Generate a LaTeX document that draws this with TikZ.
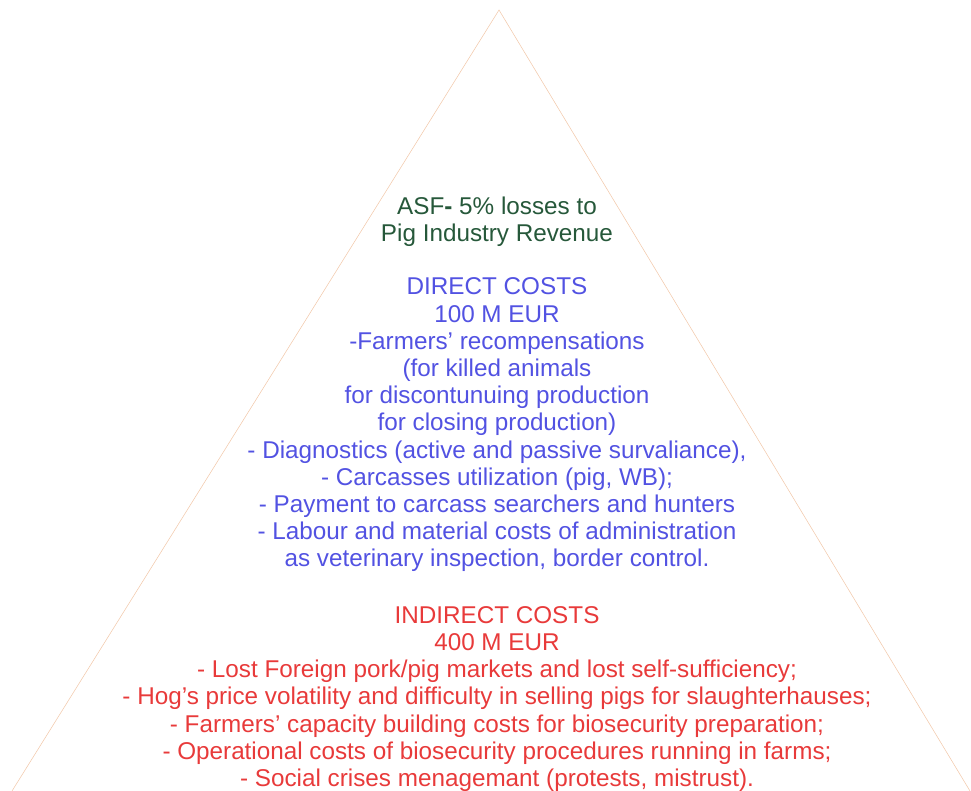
\documentclass[tikz,border=0pt]{standalone}
\usepackage{fontspec}
\setmainfont{Liberation Sans}
\usetikzlibrary{positioning}

\definecolor{asfgreen}{RGB}{38,88,58}
\definecolor{directblue}{RGB}{82,82,226}
\definecolor{indirectred}{RGB}{232,58,58}
\definecolor{edgeorange}{RGB}{242,200,170}

\tikzset{
	costblock/.style={align=center, inner sep=0pt, font=\fontsize{18.2}{20.4}\selectfont},
}

\begin{document}
\begin{tikzpicture}[x=0.75pt, y=-0.75pt]
	\useasboundingbox (0,0) rectangle (971,791);
	% pyramid outline
	\coordinate (apex) at (499,10);
	\coordinate (baseleft) at (12,791);
	\coordinate (baseright) at (970,791);
	\draw[edgeorange, line width=0.4pt] (baseleft) -- (apex) -- (baseright);
	% title
	\node[costblock, text=asfgreen] (title) at (497,221.5) {ASF{\bfseries-} 5\% losses to\\Pig Industry Revenue};
	% direct costs
	\node[costblock, text=directblue] (direct) at (497,425) {DIRECT COSTS\\100 M EUR\\-Farmers’ recompensations\\(for killed animals\\for discontunuing production\\for closing production)\\- Diagnostics (active and passive survaliance),\\- Carcasses utilization (pig, WB);\\- Payment to carcass searchers and hunters\\- Labour and material costs of administration\\as veterinary inspection, border control.};
	% indirect costs
	\node[costblock, text=indirectred] (indirect) at (497,699) {INDIRECT COSTS\\400 M EUR\\- Lost Foreign pork/pig markets and lost self-sufficiency;\\- Hog’s price volatility and difficulty in selling pigs for slaughterhauses;\\- Farmers’ capacity building costs for biosecurity preparation;\\- Operational costs of biosecurity procedures running in farms;\\- Social crises menagemant (protests, mistrust).};
\end{tikzpicture}
\end{document}
